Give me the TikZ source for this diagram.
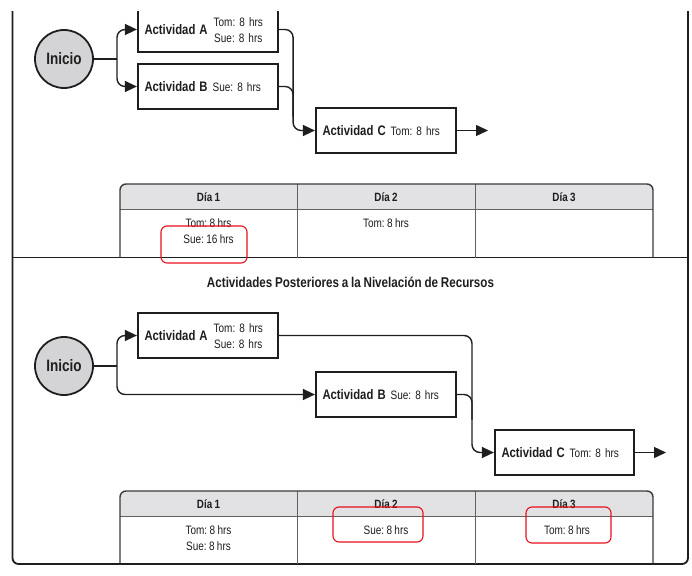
\documentclass[tikz,border=0pt]{standalone}
\usepackage{fontspec}
\setmainfont{Liberation Sans}[FakeStretch=0.82,WordSpace=0.85]
\frenchspacing
\usetikzlibrary{arrows.meta}
\definecolor{ink}{HTML}{1E1E1E}
\definecolor{tblline}{HTML}{3A3A3A}
\definecolor{hdrfill}{HTML}{E2E2E4}
\definecolor{circfill}{HTML}{D4D4D6}
\definecolor{annot}{HTML}{E8101A}
\newcommand{\actf}{\bfseries\fontsize{13.8}{15}\selectfont}
\newcommand{\regf}{\fontsize{12.2}{16}\selectfont}
\newcommand{\hdrf}{\bfseries\fontsize{12}{13}\selectfont}
\newcommand{\twolines}[2]{\begin{tabular}{@{}c@{}}#1\\#2\end{tabular}}
\tikzset{
  actbox/.style={draw=ink, line width=2.2pt, fill=white, minimum width=140pt,
    minimum height=45pt, inner xsep=6.5pt, inner ysep=0pt, text width=127pt,
    text height=10pt, text depth=0pt,
    align=left, text=ink, font=\regf},
  startnode/.style={circle, draw=ink, line width=1.8pt, fill=circfill,
    minimum size=58pt, inner sep=0pt, text=ink, font=\bfseries\fontsize{16.5}{18}\selectfont},
  conn/.style={draw=ink, line width=1.4pt, rounded corners=8pt},
  arr/.style={conn, -{Triangle[length=12pt,width=11pt]}},
  framestyle/.style={draw=ink, line width=1.8pt},
  tblout/.style={draw=tblline, line width=1.4pt},
  tblin/.style={draw=tblline!80, line width=0.9pt},
  hdrtext/.style={text=ink, font=\hdrf, inner sep=0pt},
  celltext/.style={text=ink, font=\regf, align=center, inner sep=0pt},
  redmark/.style={draw=annot, line width=1.1pt, rounded corners=6pt},
}
\begin{document}
\begin{tikzpicture}[x=1pt,y=-1pt]
\useasboundingbox (0,0) rectangle (692,575);

% ---------- frame ----------
\draw[framestyle, rounded corners=6pt] (12.5,0) -- (12.5,564) -- (688,564) -- (688,0);
\draw[framestyle] (12.5,257.5) -- (688,257.5);

% ---------- top network ----------
\node[startnode] (I1) at (64,59) {Inicio};
\node[actbox] (A1) at (208,29.5) {{\actf Actividad A}\hspace{6pt}\twolines{Tom: 8 hrs}{Sue: 8 hrs}};
\node[actbox] (B1) at (208,86.5) {{\actf Actividad B}\hspace{5pt}Sue: 8 hrs};
\node[actbox] (C1) at (386,130.5) {{\actf Actividad C}\hspace{5pt}Tom: 8 hrs};
\coordinate (J1) at (117,59);
\coordinate (O1) at (488,130.5);
\draw[conn] (I1.east) -- (J1);
\draw[arr] (J1) |- (A1.west);
\draw[arr] (J1) |- (B1.west);
\draw[arr] (A1.east) -- ++(14,0) |- (C1.west);
\draw[conn] (B1.east) -- ++(14,0) |- ++(0,30);
\draw[arr] (C1.east) -- (O1);

% cropped top edge of the screenshot
\fill[white] (0,0) rectangle (692,11.5);

% ---------- top table ----------
\begin{scope}
  \clip (0,0) rectangle (692,209);
  \fill[hdrfill, rounded corners=6pt] (120,240) -- (120,184) -- (653,184) -- (653,240) -- cycle;
\end{scope}
\draw[tblin] (120,209) -- (653,209);
\draw[tblin] (297,184) -- (297,257.5);
\draw[tblin] (475,184) -- (475,257.5);
\draw[tblout, rounded corners=6pt] (120,257.5) -- (120,184) -- (653,184) -- (653,257.5);
\node[hdrtext] (h11) at (208.5,197) {Día 1};
\node[hdrtext] (h12) at (386,197) {Día 2};
\node[hdrtext] (h13) at (564,197) {Día 3};
\node[celltext] (c11) at (208.5,231.5) {Tom: 8 hrs\\Sue: 16 hrs};
\node[celltext] (c12) at (386,223.5) {Tom: 8 hrs};
\draw[redmark] (161,226) rectangle (247,263);

% ---------- title ----------
\node[text=ink, font=\bfseries\fontsize{14.2}{16}\selectfont] (title) at (350.5,282)
  {Actividades Posteriores a la Nivelación de Recursos};

% ---------- bottom network ----------
\node[startnode] (I2) at (64,366) {Inicio};
\node[actbox] (A2) at (208,335.5) {{\actf Actividad A}\hspace{6pt}\twolines{Tom: 8 hrs}{Sue: 8 hrs}};
\node[actbox] (B2) at (386,394.5) {{\actf Actividad B}\hspace{5pt}Sue: 8 hrs};
\node[actbox, minimum width=139pt, text width=126pt] (C2) at (564.5,452.5) {{\actf Actividad C}\hspace{5pt}Tom: 8 hrs};
\coordinate (J2) at (117,366);
\coordinate (O2) at (666,452.5);
\draw[conn] (I2.east) -- (J2);
\draw[arr] (J2) |- (A2.west);
\draw[arr] (J2) |- (B2.west);
\draw[arr] (A2.east) -- (472,335.5) |- (C2.west);
\draw[conn] (B2.east) -- (472,394.5) -- ++(0,25);
\draw[arr] (C2.east) -- (O2);

% ---------- bottom table ----------
\begin{scope}
  \clip (0,0) rectangle (692,516);
  \fill[hdrfill, rounded corners=6pt] (120,540) -- (120,491) -- (653,491) -- (653,540) -- cycle;
\end{scope}
\draw[tblin] (120,516) -- (653,516);
\draw[tblin] (297,491) -- (297,563.5);
\draw[tblin] (475,491) -- (475,563.5);
\draw[tblout, rounded corners=6pt] (120,563.5) -- (120,491) -- (653,491) -- (653,563.5);
\node[hdrtext] (h21) at (208.5,504) {Día 1};
\node[hdrtext] (h22) at (386,504) {Día 2};
\node[hdrtext] (h23) at (564,504) {Día 3};
\node[celltext] (c21) at (208.5,538.5) {Tom: 8 hrs\\Sue: 8 hrs};
\node[celltext] (c22) at (386,530.5) {Sue: 8 hrs};
\node[celltext] (c23) at (567,530.5) {Tom: 8 hrs};
\draw[redmark] (333,507) rectangle (423,542);
\draw[redmark] (526,507) rectangle (611,543);
\end{tikzpicture}
\end{document}
